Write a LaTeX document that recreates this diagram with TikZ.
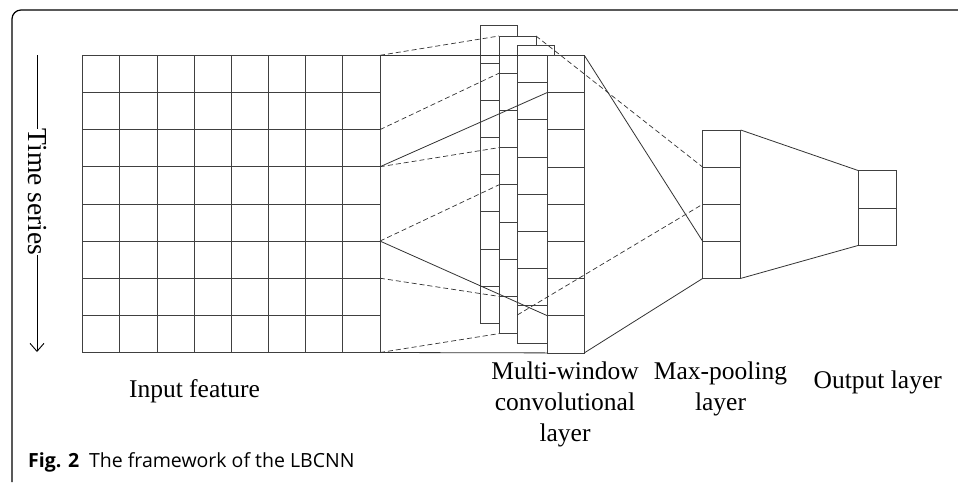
\documentclass[tikz,border=0pt]{standalone}
\usepackage{fontspec}
\setmainfont{Liberation Serif}
\newfontfamily\capfont{Open Sans}
\usetikzlibrary{arrows.meta}

\begin{document}
\begin{tikzpicture}[x=1pt, y=-1pt]
\useasboundingbox (0,0) rectangle (958,482);

% definitions
\tikzstyle{cell} = [rectangle, minimum width=37pt, minimum height=37.2pt, inner sep=0pt, outer sep=0pt, draw=black!75, line width=0.8pt, fill=white]

\tikzstyle{layername} = [align=center, inner sep=0pt, font=\fontsize{25.5}{31}\selectfont]

\tikzstyle{link} = [black!80, line width=0.8pt]

\tikzstyle{dlink} = [black!80, line width=0.7pt, dash pattern=on 5pt off 3pt]

\tikzstyle{arrow} = [-{Straight Barb[length=8pt,width=14pt]}, line width=0.9pt]

% frame
\draw[line width=1.2pt, rounded corners=9pt] (12,482) -- (12,10) -- (958,10);

% input feature
\foreach \r in {1,...,8}
  \foreach \c in {1,...,8}
    \node (in-\r-\c) [cell, minimum width=37.16pt, minimum height=37.15pt] at ({82.7+37.16*(\c-0.5)}, {55.3+37.15*(\r-0.5)}) {};

% convolution windows
\foreach \k/\x/\y in {1/480.7/25.7, 2/499/36, 3/517.3/45.3, 4/547.3/55.3}
  \foreach \r in {1,...,8}
    \node (c\k-\r) [cell] at ({\x+18.5}, {\y+37.2*(\r-0.5)}) {};

% max-pooling
\foreach \r in {1,...,4}
  \node (mp-\r) [cell, minimum width=38pt, minimum height=37.1pt] at (721.7, {130+37.1*(\r-0.5)}) {};

% output
\foreach \r in {1,2}
  \node (out-\r) [cell, minimum width=37.3pt, minimum height=37.3pt] at (877.35, {170.7+37.3*(\r-0.5)}) {};

% input -> convolution
\draw [link] (in-1-8.north east) -- (c4-1.north west);
\draw [link] (in-8-8.south east) -- (c4-8.south west);
\draw [link] (in-3-8.south east) -- (c4-1.south west);
\draw [link] (in-5-8.south east) -- (c4-7.south west);

\draw [dlink] (in-1-8.north east) -- (c2-1.north west);
\draw [dlink] (in-2-8.south east) -- (c2-1.south west);
\draw [dlink] (in-3-8.south east) -- (c2-3.south west);
\draw [dlink] (in-5-8.south east) -- (c2-4.south west);
\draw [dlink] (in-6-8.south east) -- (c2-7.south west);
\draw [dlink] (in-8-8.south east) -- (c2-8.south west);

% convolution -> max-pooling
\coordinate (w3) at (517.3,315);
\draw [dlink] (w3) -- (mp-2.south west);
\draw [dlink] (c2-1.north east) -- (mp-1.south west);
\draw [link] (c4-1.north east) -- (mp-3.south west);
\draw [link] (c4-8.south east) -- (mp-4.south west);

% max-pooling -> output
\draw [link] (mp-1.north east) -- (out-1.north west);
\draw [link] (mp-4.south east) -- (out-2.south west);

% time axis
\coordinate (tstop) at (37,55);
\coordinate (tsbot) at (37,352);
\node (ts) [layername, rotate=-90, fill=white, font=\fontsize{27.5}{31}\selectfont] at (37,192) {Time series};
\draw [line width=0.9pt] (tstop) -- (ts);
\draw [arrow] (ts) -- (tsbot);

% layer names
\node (inlbl) [layername, anchor=north] at (194.5,379) {Input feature};
\node (convlbl) [layername, anchor=north] at (565,362) {Multi-window\\convolutional\\layer};
\node (mplbl) [layername, anchor=north] at (720.5,362) {Max-pooling\\layer};
\node (outlbl) [layername, anchor=north] at (877.7,371) {Output layer};

% caption
\node (cap) [anchor=base west, inner sep=0pt, font=\capfont\fontsize{19.5}{23}\selectfont] at (28,467) {\textbf{Fig. 2}\enspace The framework of the LBCNN};

\end{tikzpicture}
\end{document}
